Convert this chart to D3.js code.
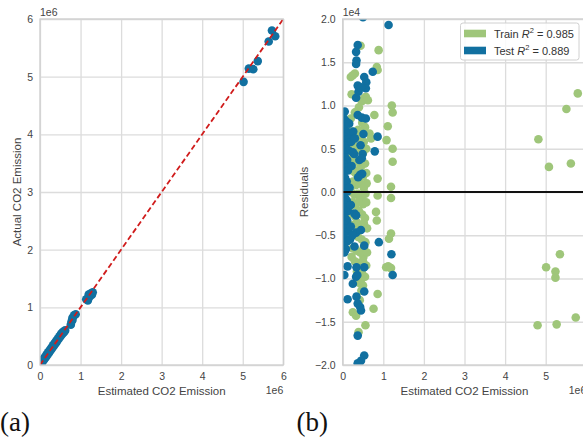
<!DOCTYPE html>
<html>
<head>
<meta charset="utf-8">
<script src="https://cdn.jsdelivr.net/npm/d3@7"></script>
<style>
  body { margin: 0; background: #fff; }
  svg { display: block; font-family: "Liberation Sans", Arial, sans-serif; }
</style>
</head>
<body>
<svg width="583" height="446"></svg>
<script>
// ---- data (x in units of 1e6, residuals in units of 1e4) ----
const ticks06 = [0, 1, 2, 3, 4, 5, 6];
const ticksRightX = [0, 1, 2, 3, 4, 5];
const residTicks = [-2, -1.5, -1, -0.5, 0, 0.5, 1, 1.5, 2];
const residTickLabels = ["\u22122.0", "\u22121.5", "\u22121.0", "\u22120.5", "0.0", "0.5", "1.0", "1.5", "2.0"];
const legendLabels = [["Train", "0.985"], ["Test", "0.889"]];

// prediction error (test set): [predicted, actual]
const testPredActual = [
  [0.02,0.03],[0.04,0.06],[0.06,0.05],[0.08,0.10],[0.10,0.09],[0.12,0.14],[0.14,0.13],
  [0.16,0.18],[0.18,0.17],[0.20,0.22],[0.22,0.21],[0.24,0.26],[0.26,0.25],[0.28,0.30],
  [0.30,0.29],[0.32,0.34],[0.34,0.33],[0.36,0.38],[0.38,0.37],[0.40,0.42],[0.42,0.41],
  [0.44,0.46],[0.46,0.45],[0.48,0.50],[0.50,0.49],[0.52,0.54],[0.54,0.53],[0.56,0.57],
  [0.58,0.56],[0.60,0.58],[0.62,0.60],
  [0.76,0.70],[0.78,0.76],[0.80,0.82],[0.84,0.86],[0.88,0.88],[0.80,0.78],
  [1.14,1.14],[1.18,1.12],[1.22,1.18],[1.20,1.22],[1.25,1.24],[1.30,1.26],[1.28,1.22],
  [5.02,4.91],[5.15,5.14],[5.26,5.13],[5.37,5.27],[5.64,5.61],[5.72,5.80],[5.80,5.70]
];

// residuals, train set: [predicted, residual]
const trainResid = [
  [0.44,1.69],[0.885,1.64],[0.84,1.445],[0.86,1.41],[0.20,1.33],[0.30,1.37],[0.25,1.35],
  [0.22,1.13],[0.52,1.08],[0.47,1.05],[0.57,1.10],[0.62,1.06],[1.21,1.00],[1.23,0.92],
  [0.78,0.89],[1.11,0.76],[0.66,0.675],[0.70,0.62],[1.08,0.60],[1.23,0.50],[1.23,0.35],
  [0.86,0.155],[1.19,0.06],[0.86,-0.04],[1.19,-0.07],[0.82,-0.23],[0.84,-0.33],
  [1.19,-0.48],[1.14,-0.54],[0.22,-0.75],[0.51,-0.75],[1.07,-0.87],[1.12,-0.86],
  [1.19,-0.88],[0.47,-0.93],[0.47,-1.00],[0.86,-1.18],[0.76,-1.35],[0.25,-1.39],
  [0.33,-1.43],[0.56,-1.54],[0.39,-1.62],
  [0.20,0.85],[0.30,0.92],[0.48,0.80],[0.55,0.75],[0.40,0.98],
  [0.22,0.70],[0.30,0.66],[0.38,0.72],[0.45,0.62],[0.52,0.58],[0.26,0.55],[0.34,0.52],
  [0.42,0.48],[0.50,0.45],[0.58,0.50],[0.20,0.40],[0.28,0.38],[0.36,0.35],[0.46,0.30],
  [0.55,0.33],[0.23,0.25],[0.31,0.22],[0.40,0.26],[0.50,0.18],[0.58,0.22],[0.25,0.12],
  [0.33,0.08],[0.42,0.10],[0.52,0.05],[0.59,0.10],[0.21,0.00],[0.29,-0.03],[0.38,-0.02],
  [0.47,-0.06],[0.56,-0.02],[0.24,-0.12],[0.32,-0.15],[0.41,-0.10],[0.50,-0.14],
  [0.58,-0.12],[0.22,-0.25],[0.30,-0.28],[0.40,-0.22],[0.48,-0.26],[0.55,-0.30],
  [0.26,-0.38],[0.35,-0.35],[0.44,-0.40],[0.52,-0.36],[0.60,-0.42],[0.28,-0.50],
  [0.38,-0.52],[0.47,-0.55],[0.56,-0.58],[0.25,-0.65],[0.34,-0.68],[0.43,-0.70],
  [0.52,-0.64],[0.60,-0.70],[0.30,-0.80],[0.40,-0.82],[0.50,-0.80],[0.58,-0.85],
  [0.35,-0.92],[0.45,-0.95],[0.55,-0.98],[0.40,-1.05],[0.50,-1.08],[0.46,-1.14],
  [0.42,-1.25],[0.38,-0.40],[0.18,0.55],[0.16,-0.20],
  [5.79,1.14],[5.51,0.96],[4.82,0.61],[5.08,0.29],[5.62,0.33],[5.35,-0.72],[5.01,-0.87],
  [5.24,-0.92],[5.24,-0.99],[5.74,-1.45],[4.80,-1.54],[5.27,-1.53]
];

// residuals, test set: [predicted, residual]
const testResid = [
  [0.02,0.92],[0.05,0.93],[0.03,0.85],[0.08,0.82],[0.12,0.80],[0.02,0.75],[0.06,0.72],
  [0.10,0.70],[0.14,0.68],[0.03,0.64],[0.08,0.60],[0.12,0.57],[0.04,0.53],[0.09,0.50],
  [0.15,0.48],[0.02,0.44],[0.06,0.40],[0.11,0.37],[0.03,0.32],[0.08,0.28],[0.13,0.25],
  [0.02,0.20],[0.06,0.16],[0.10,0.12],[0.03,0.08],[0.07,0.04],[0.12,0.01],[0.02,-0.03],
  [0.06,-0.07],[0.10,-0.10],[0.03,-0.14],[0.08,-0.18],[0.13,-0.22],[0.02,-0.26],
  [0.06,-0.30],[0.11,-0.33],[0.03,-0.38],[0.08,-0.42],[0.14,-0.45],[0.02,-0.50],
  [0.06,-0.54],[0.11,-0.57],[0.03,-0.62],[0.08,-0.66],[0.04,-0.70],
  [1.13,1.93],[0.37,1.70],[0.33,1.62],[0.34,1.52],[0.33,1.48],[0.74,1.39],[0.53,1.33],
  [0.58,1.27],[0.57,1.20],[0.37,1.23],[0.39,1.16],[0.33,1.09],[0.45,1.21],[0.37,0.89],
  [0.47,0.86],[0.57,0.85],[0.16,0.79],[0.86,0.64],[0.79,0.47],[0.44,0.54],[0.51,0.67],
  [0.49,0.44],[0.28,0.44],[0.25,0.46],[0.41,0.37],[0.47,0.39],[0.43,0.20],[0.48,0.21],
  [0.38,0.17],[0.29,-0.25],[0.33,-0.27],[0.20,-0.40],[0.33,-0.47],[0.45,-0.44],
  [0.89,-0.58],[0.29,-0.63],[0.53,-0.62],[1.20,-0.72],[1.23,-0.96],[0.12,-0.86],
  [0.34,-0.87],[0.53,-0.87],[0.33,-0.98],[0.36,-0.96],[0.25,-1.06],[0.53,-1.15],
  [0.12,-1.24],[0.34,-1.21],[0.37,-1.29],[0.43,-1.33],[0.45,-1.37],[0.37,-1.66],
  [0.53,-1.89],[0.45,-1.95],[0.37,-1.98],[0.42,-2.02],[0.04,-0.96],[0.50,2.02],
  [0.18,0.62],[0.22,0.30],[0.17,0.05],[0.20,-0.15],[0.18,-0.55],[0.24,-0.50],
  [0.26,0.70],[0.21,0.58],[0.30,0.62]
];

const trainColor = "#9fc67a", testColor = "#1170a0";
const gridColor = "#dcdcdc", tickColor = "#444";
const R = 4.3;

const svg = d3.select("svg");

// ---- panel geometry ----
const left = { x0: 40, x1: 283.3, y0: 19, y1: 365 };
const right = { x0: 342.7, x1: 586.3, y0: 19, y1: 365 };

function panel(p, id, xTicks, yDomain, yTicks, yFmt) {
  const x = d3.scaleLinear().domain([0, 6]).range([p.x0, p.x1]);
  const y = d3.scaleLinear().domain(yDomain).range([p.y1, p.y0]);
  const h = p.y1 - p.y0, w = p.x1 - p.x0;

  const gx = svg.append("g").attr("transform", `translate(0,${p.y1})`)
    .call(d3.axisBottom(x).tickValues(xTicks).tickSize(-h).tickPadding(8).tickFormat(d3.format("d")));
  const gy = svg.append("g").attr("transform", `translate(${p.x0},0)`)
    .call(d3.axisLeft(y).tickValues(yTicks).tickSize(-w).tickPadding(7).tickFormat(yFmt));
  [gx, gy].forEach(g => {
    g.select(".domain").remove();
    g.selectAll(".tick line").attr("stroke", gridColor).attr("stroke-width", 1.3);
    g.selectAll(".tick text").attr("fill", tickColor).style("font-size", "10.5px")
      .style("font-family", "'Liberation Sans', Arial, sans-serif");
  });

  svg.append("clipPath").attr("id", id).append("rect")
    .attr("x", p.x0).attr("y", p.y0).attr("width", w).attr("height", h);
  const plot = svg.append("g").attr("clip-path", `url(#${id})`);

  return { x, y, plot, w, h };
}

// ---- (a) prediction error ----
const A = panel(left, "clipA", ticks06, [0, 6], ticks06, d3.format("d"));
A.plot.selectAll("circle").data(testPredActual).enter().append("circle")
  .attr("cx", d => A.x(d[0])).attr("cy", d => A.y(d[1])).attr("r", R)
  .attr("fill", testColor);
A.plot.append("line")
  .attr("x1", A.x(0)).attr("y1", A.y(0)).attr("x2", A.x(6)).attr("y2", A.y(6))
  .attr("stroke", "#d01c1c").attr("stroke-width", 1.8).attr("stroke-dasharray", "5.5,3");
svg.append("rect").attr("x", left.x0).attr("y", left.y0).attr("width", A.w).attr("height", A.h)
  .attr("fill", "none").attr("stroke", "#cfcfcf").attr("stroke-width", 1.3);

svg.append("text").attr("x", left.x0).attr("y", 16).attr("fill", tickColor)
  .style("font-size", "10.5px").text("1e6");
svg.append("text").attr("x", left.x1).attr("y", 394).attr("text-anchor", "end").attr("fill", tickColor)
  .style("font-size", "10.5px").text("1e6");
svg.append("text").attr("x", (left.x0 + left.x1) / 2).attr("y", 395).attr("text-anchor", "middle")
  .attr("fill", tickColor).style("font-size", "11.5px").text("Estimated CO2 Emission");
svg.append("text").attr("transform", `translate(21,${(left.y0 + left.y1) / 2}) rotate(-90)`)
  .attr("text-anchor", "middle").attr("fill", tickColor).style("font-size", "11.5px")
  .text("Actual CO2 Emission");

// ---- (b) residuals ----
const B = panel(right, "clipB", ticksRightX, [-2, 2], residTicks, (d, i) => residTickLabels[i]);
B.plot.selectAll("circle.train").data(trainResid).enter().append("circle")
  .attr("class", "train")
  .attr("cx", d => B.x(d[0])).attr("cy", d => B.y(d[1])).attr("r", R)
  .attr("fill", trainColor);
B.plot.selectAll("circle.test").data(testResid).enter().append("circle")
  .attr("class", "test")
  .attr("cx", d => B.x(d[0])).attr("cy", d => B.y(d[1])).attr("r", R)
  .attr("fill", testColor);
B.plot.append("line")
  .attr("x1", right.x0).attr("x2", right.x1).attr("y1", B.y(0)).attr("y2", B.y(0))
  .attr("stroke", "#111").attr("stroke-width", 2);
svg.append("rect").attr("x", right.x0).attr("y", right.y0).attr("width", B.w).attr("height", B.h)
  .attr("fill", "none").attr("stroke", "#cfcfcf").attr("stroke-width", 1.3);

svg.append("text").attr("x", right.x0).attr("y", 16).attr("fill", tickColor)
  .style("font-size", "10.5px").text("1e4");
svg.append("text").attr("x", right.x1).attr("y", 394).attr("text-anchor", "end").attr("fill", tickColor)
  .style("font-size", "10.5px").text("1e6");
svg.append("text").attr("x", B.x(3)).attr("y", 395).attr("text-anchor", "middle")
  .attr("fill", tickColor).style("font-size", "11.5px").text("Estimated CO2 Emission");
svg.append("text").attr("transform", `translate(308,${(right.y0 + right.y1) / 2}) rotate(-90)`)
  .attr("text-anchor", "middle").attr("fill", tickColor).style("font-size", "11.5px")
  .text("Residuals");

// legend
const lg = svg.append("g");
lg.append("rect").attr("x", 460.5).attr("y", 23).attr("width", 118.5).attr("height", 37).attr("rx", 2.5)
  .attr("fill", "#fff").attr("fill-opacity", 0.85).attr("stroke", "#d0d0d0");
legendLabels.forEach((l, i) => {
  const cy = 33.5 + i * 17;
  lg.append("rect").attr("x", 464).attr("y", cy - 3.8).attr("width", 22).attr("height", 7.6)
    .attr("fill", i === 0 ? trainColor : testColor);
  const t = lg.append("text").attr("x", 494).attr("y", cy + 4).attr("fill", "#333")
    .style("font-size", "11px");
  t.append("tspan").text(l[0] + " ");
  t.append("tspan").style("font-style", "italic").text("R");
  t.append("tspan").attr("dy", -4.5).style("font-size", "7.5px").text("2");
  t.append("tspan").attr("dy", 4.5).text(" = " + l[1]);
});

// panel letters
svg.append("text").attr("x", 0).attr("y", 431).style("font-family", "'Liberation Serif', 'Times New Roman', serif")
  .style("font-size", "27px").attr("fill", "#111").text("(a)");
svg.append("text").attr("x", 296.5).attr("y", 431).style("font-family", "'Liberation Serif', 'Times New Roman', serif")
  .style("font-size", "27px").attr("fill", "#111").text("(b)");
</script>
</body>
</html>
